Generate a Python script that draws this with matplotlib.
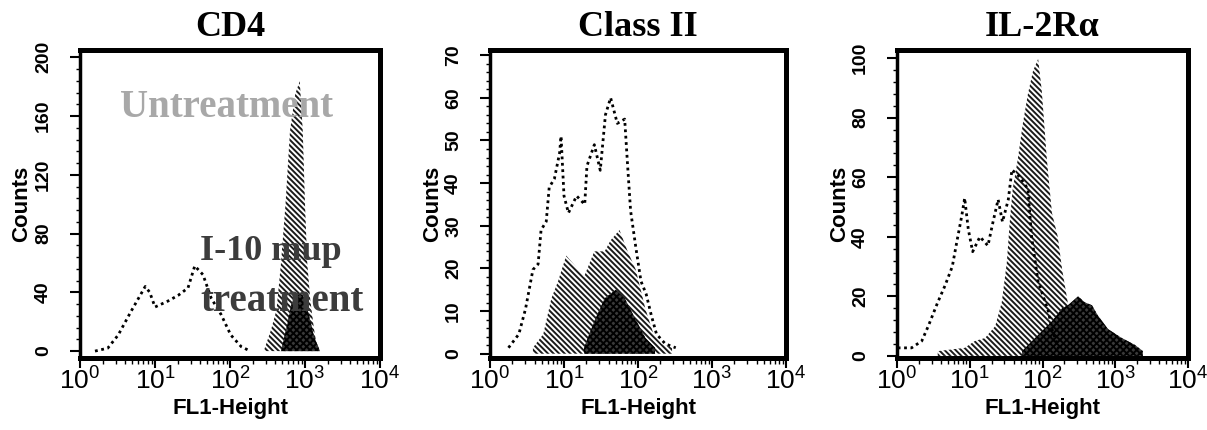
import numpy as np
import matplotlib
matplotlib.use('Agg')
import matplotlib.pyplot as plt
from matplotlib.ticker import LogLocator, NullFormatter, MultipleLocator

plt.rcParams['hatch.linewidth'] = 1.4
plt.rcParams['mathtext.fontset'] = 'custom'
plt.rcParams['mathtext.rm'] = 'Liberation Sans'

# ---- data (x given as log10 of FL1-Height) ----
# CD4
cd4_ctrl_x = [0.20, 0.37, 0.51, 0.68, 0.87, 0.93, 1.00, 1.17, 1.31, 1.44, 1.53, 1.64, 1.75, 1.88, 2.01, 2.15, 2.27]
cd4_ctrl_y = [0, 2, 11, 27, 44, 40, 30, 34, 38, 43, 58, 52, 36, 25, 11, 3, 0]
cd4_trt_x = [2.45, 2.55, 2.62, 2.68, 2.74, 2.80, 2.87, 2.93, 2.97, 3.00, 3.03, 3.07, 3.12, 3.17]
cd4_trt_y = [0, 15, 28, 60, 100, 150, 175, 184, 150, 100, 60, 35, 15, 0]
cd4_il10_x = [2.68, 2.75, 2.82, 2.90, 2.97, 3.05, 3.12, 3.20]
cd4_il10_y = [0, 15, 32, 40, 38, 25, 10, 0]

# Class II
cls_ctrl_x = [0.25, 0.39, 0.48, 0.58, 0.65, 0.69, 0.76, 0.80, 0.87, 0.94, 0.96, 1.00, 1.06, 1.17, 1.28,
              1.31, 1.41, 1.49, 1.56, 1.63, 1.72, 1.82, 1.86, 1.90, 1.97, 2.04, 2.11, 2.18, 2.25, 2.37, 2.51]
cls_ctrl_y = [1.4, 4.6, 10.5, 19.7, 21, 29, 31, 39, 41, 47, 51, 37, 33, 37, 35,
              44, 49, 43, 56, 60, 54, 55, 44, 33.5, 25, 17, 14, 9, 4.6, 2.3, 1.4]
cls_trt_x = [0.58, 0.72, 0.83, 0.92, 1.03, 1.15, 1.27, 1.41, 1.55, 1.63, 1.75, 1.86, 1.97, 2.10, 2.21, 2.32, 2.46]
cls_trt_y = [1.4, 4.6, 13, 17, 23, 20.6, 18, 24, 24, 26.6, 29, 24, 19.7, 10.5, 4.6, 2.3, 1.4]
cls_il10_x = [1.27, 1.41, 1.55, 1.70, 1.82, 1.96, 2.10, 2.23]
cls_il10_y = [1.4, 7.6, 13, 15, 13, 8.3, 3.7, 1.4]

# IL-2R alpha
il2_ctrl_x = [0.01, 0.20, 0.34, 0.43, 0.56, 0.66, 0.76, 0.82, 0.89, 0.93, 0.98, 1.04, 1.14, 1.25, 1.32,
              1.39, 1.45, 1.53, 1.58, 1.69, 1.80, 1.85, 1.94, 2.08, 2.13, 2.22]
il2_ctrl_y = [2.7, 2.7, 5, 10, 18, 23.6, 30, 38, 47, 53, 42.5, 35, 40, 37, 45,
              52.5, 45, 52.5, 62.5, 60, 56, 40, 25, 15, 9, 2.7]
il2_trt_x = [0.56, 0.93, 1.07, 1.21, 1.35, 1.44, 1.51, 1.55, 1.59, 1.66, 1.73, 1.80, 1.87, 1.94,
             1.99, 2.06, 2.13, 2.21, 2.27, 2.34, 2.41, 2.47]
il2_trt_y = [1.6, 2.7, 5, 6, 10, 18, 31.5, 45, 56, 66, 78, 88, 95.7, 99.7,
             89, 66, 48, 40, 29, 19, 8, 1.6]
il2_il10_x = [1.72, 1.94, 2.13, 2.27, 2.35, 2.49, 2.58, 2.68, 2.76, 2.90, 3.09, 3.27, 3.38]
il2_il10_y = [1.6, 7, 11.6, 16, 17, 20, 18, 17, 13.6, 9, 6, 3.7, 1.6]

titles = ['CD4', 'Class II', 'IL-2Rα']
y_ticks = [[0, 40, 80, 120, 160, 200], [0, 10, 20, 30, 40, 50, 60, 70], [0, 20, 40, 60, 80, 100]]
y_limits = [(-4.7, 205), (-1.0, 71.2), (-0.7, 102.7)]
x_ticks = [1, 10, 100, 1000, 10000]
x_tick_labels = [r'$\mathregular{10^0}$', r'$\mathregular{10^1}$', r'$\mathregular{10^2}$',
                 r'$\mathregular{10^3}$', r'$\mathregular{10^4}$']

panels = [
    (cd4_ctrl_x, cd4_ctrl_y, cd4_trt_x, cd4_trt_y, cd4_il10_x, cd4_il10_y),
    (cls_ctrl_x, cls_ctrl_y, cls_trt_x, cls_trt_y, cls_il10_x, cls_il10_y),
    (il2_ctrl_x, il2_ctrl_y, il2_trt_x, il2_trt_y, il2_il10_x, il2_il10_y),
]

# axes boxes in pixels: left, right
boxes = [(80, 380), (490, 786), (897, 1188)]
W, H = 1207, 430
top_px, bot_px = 50, 358

fig = plt.figure(figsize=(W / 100, H / 100), dpi=100)

for i, (cx, cy, tx, ty, dx, dy) in enumerate(panels):
    l, r = boxes[i]
    ax = fig.add_axes([l / W, 1 - bot_px / H, (r - l) / W, (bot_px - top_px) / H])
    ax.set_xscale('log')
    ax.set_xlim(1, 1e4)
    ax.set_ylim(*y_limits[i])

    # light hatched histogram
    ax.fill_between(10 ** np.array(tx), ty, 0, facecolor='white', edgecolor='#1a1a1a',
                    hatch='\\\\\\\\\\\\', linewidth=0, zorder=2)
    # dark histogram
    ax.fill_between(10 ** np.array(dx), dy, 0, facecolor='#3a3a3a', edgecolor='black',
                    hatch='xxxxx', linewidth=0, zorder=3)
    # dotted control
    ax.plot(10 ** np.array(cx), cy, color='black', linestyle=(0, (1, 1.3)), linewidth=2, zorder=4)

    for side in ['top', 'right', 'bottom']:
        ax.spines[side].set_linewidth(3.6)
    ax.spines['left'].set_linewidth(2.5)

    ax.set_yticks(y_ticks[i])
    ax.set_yticklabels([str(v) for v in y_ticks[i]], rotation=90, va='center',
                       fontsize=14, family='Liberation Sans', fontweight='bold')
    ax.yaxis.set_minor_locator(MultipleLocator((y_ticks[i][1] - y_ticks[i][0]) / 5))
    ax.tick_params(axis='y', which='major', length=7, width=1.5, direction='out', pad=13)
    ax.tick_params(axis='y', which='minor', length=3, width=1, direction='out')

    ax.set_xticks(x_ticks)
    ax.set_xticklabels(x_tick_labels, fontsize=19, family='Liberation Sans')
    ax.xaxis.set_minor_locator(LogLocator(base=10, subs=np.arange(2, 10)))
    ax.xaxis.set_minor_formatter(NullFormatter())
    ax.tick_params(axis='x', which='major', length=7, width=1.5, direction='out', pad=0)
    ax.tick_params(axis='x', which='minor', length=4, width=1, direction='out')

    ax.set_xlabel('FL1-Height', fontsize=16, family='Liberation Sans', fontweight='bold')
    ax.xaxis.set_label_coords(0.5, -0.13)
    ax.set_ylabel('Counts', fontsize=16, family='Liberation Sans', fontweight='bold')
    ax.yaxis.set_label_coords(-0.16, 0.5)
    ax.set_title(titles[i], fontsize=26, family='Liberation Serif', fontweight='bold', pad=10)

    if i == 0:
        ax.text(89, 166, 'Untreatment', fontsize=28, family='Liberation Serif', fontweight='bold',
                color='#a8a8a8', ha='center', va='center', zorder=5)
        ax.text(40, 68, 'I-10 mup', fontsize=26, family='Liberation Serif', fontweight='bold',
                color='#3c3c3c', ha='left', va='center', zorder=5)
        ax.text(40, 34, 'treatment', fontsize=28, family='Liberation Serif', fontweight='bold',
                color='#3c3c3c', ha='left', va='center', zorder=5)

fig.savefig('out.png', dpi=100)
